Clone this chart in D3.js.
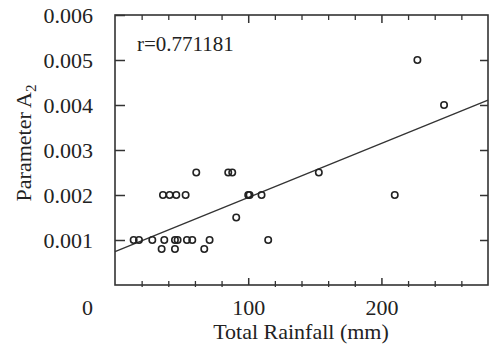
<!DOCTYPE html>
<html>
<head>
<meta charset="utf-8">
<script src="https://cdn.jsdelivr.net/npm/d3@7"></script>
<style>
  body { margin: 0; background: #fff; }
  text { font-family: "Liberation Serif", "DejaVu Serif", serif; fill: #222; }
</style>
</head>
<body>
<figure id="chart" style="margin:0"></figure>
<script>
// scatter values
const rainfall = [14, 18, 28, 37, 45, 47, 54, 58, 71, 115,
                  35, 45, 67,
                  36, 41, 46, 53, 100, 101, 110, 210,
                  61, 85, 88, 153,
                  91, 227, 247];
const paramA2 = [0.001, 0.001, 0.001, 0.001, 0.001, 0.001, 0.001, 0.001, 0.001, 0.001,
                 0.0008, 0.0008, 0.0008,
                 0.002, 0.002, 0.002, 0.002, 0.002, 0.002, 0.002, 0.002,
                 0.0025, 0.0025, 0.0025, 0.0025,
                 0.0015, 0.005, 0.004];

// fitted line end points
const fitX = [0, 280];
const fitY = [0.00074, 0.00411];

const yTicks = [0.001, 0.002, 0.003, 0.004, 0.005, 0.006];
const xLabelTicks = [0, 100, 200];
const xMinorTicks = [20, 40, 60, 80, 120, 140, 160, 180, 220, 240, 260];
const rText = "r=0.771181";

const width = 497, height = 347;
const plotLeft = 115, plotRight = 488, plotTop = 15, plotBottom = 285;

const svg = d3.select("figure#chart")
  .append("svg")
  .attr("width", width)
  .attr("height", height);

const x = d3.scaleLinear().domain([0, 280]).range([plotLeft, plotRight]);
const y = d3.scaleLinear().domain([0, 0.006]).range([plotBottom, plotTop]);

const ink = "#333";

// frame
svg.append("rect")
  .attr("x", plotLeft).attr("y", plotTop)
  .attr("width", plotRight - plotLeft).attr("height", plotBottom - plotTop)
  .attr("fill", "none").attr("stroke", ink).attr("stroke-width", 1.6);

// left axis, ticks pointing inward
const yAxis = svg.append("g")
  .attr("transform", "translate(" + plotLeft + ",0)")
  .call(d3.axisLeft(y).tickValues(yTicks).tickSizeInner(-10).tickSizeOuter(0)
    .tickPadding(22).tickFormat(d3.format(".3f")));
yAxis.select(".domain").remove();
yAxis.selectAll("line").attr("stroke", ink).attr("stroke-width", 1.5);
yAxis.selectAll("text").style("font-size", "22px").attr("fill", "#222");

// right axis ticks
const yRight = svg.append("g")
  .attr("transform", "translate(" + plotRight + ",0)")
  .call(d3.axisRight(y).tickValues(yTicks.slice(0, 5)).tickSizeInner(-8).tickSizeOuter(0).tickFormat(""));
yRight.select(".domain").remove();
yRight.selectAll("line").attr("stroke", ink).attr("stroke-width", 1.5);

// bottom axis: major labels
const xAxis = svg.append("g")
  .attr("transform", "translate(0," + plotBottom + ")")
  .call(d3.axisBottom(x).tickValues(xLabelTicks).tickSizeInner(-7).tickSizeOuter(0).tickPadding(14));
xAxis.select(".domain").remove();
xAxis.selectAll("line").attr("stroke", ink).attr("stroke-width", 1.5);
xAxis.selectAll("text").style("font-size", "22px").attr("fill", "#222");
// the "0" label sits off to the left in the original
xAxis.selectAll(".tick").filter(d => d === 0).select("text").attr("x", -28);
xAxis.selectAll(".tick").filter(d => d === 0).select("line").remove();

// bottom minor ticks
const xMinor = svg.append("g")
  .attr("transform", "translate(0," + (plotBottom + 2) + ")")
  .call(d3.axisBottom(x).tickValues(xMinorTicks).tickSizeInner(-6).tickSizeOuter(0).tickFormat(""));
xMinor.select(".domain").remove();
xMinor.selectAll("line").attr("stroke", ink).attr("stroke-width", 1.3);

// top ticks
const xTop = svg.append("g")
  .attr("transform", "translate(0," + plotTop + ")")
  .call(d3.axisTop(x).tickValues(xMinorTicks).tickSizeInner(-5).tickSizeOuter(0).tickFormat(""));
xTop.select(".domain").remove();
xTop.selectAll("line").attr("stroke", ink).attr("stroke-width", 1.3);

const xTopMajor = svg.append("g")
  .attr("transform", "translate(0," + plotTop + ")")
  .call(d3.axisTop(x).tickValues([100, 200]).tickSizeInner(-8).tickSizeOuter(0).tickFormat(""));
xTopMajor.select(".domain").remove();
xTopMajor.selectAll("line").attr("stroke", ink).attr("stroke-width", 1.5);

// regression line
svg.append("line")
  .attr("x1", x(fitX[0])).attr("y1", y(fitY[0]))
  .attr("x2", x(fitX[1])).attr("y2", y(fitY[1]))
  .attr("stroke", ink).attr("stroke-width", 1.3);

// points
svg.selectAll("circle.pt")
  .data(rainfall.map((r, i) => ({ r: r, a: paramA2[i] })))
  .enter()
  .append("circle")
  .attr("class", "pt")
  .attr("cx", d => x(d.r))
  .attr("cy", d => y(d.a))
  .attr("r", 3.2)
  .attr("fill", "none")
  .attr("stroke", "#222")
  .attr("stroke-width", 1.6);

// correlation text
svg.append("text")
  .attr("x", 137).attr("y", 51)
  .style("font-size", "21px")
  .text(rText);

// axis titles
svg.append("text")
  .attr("x", 301).attr("y", 339)
  .attr("text-anchor", "middle")
  .style("font-size", "22px")
  .text("Total Rainfall (mm)");

const yTitle = svg.append("text")
  .attr("transform", "translate(31,143) rotate(-90)")
  .attr("text-anchor", "middle")
  .style("font-size", "22px");
yTitle.append("tspan").text("Parameter A");
yTitle.append("tspan").attr("dy", 5).style("font-size", "15px").text("2");
</script>
</body>
</html>
